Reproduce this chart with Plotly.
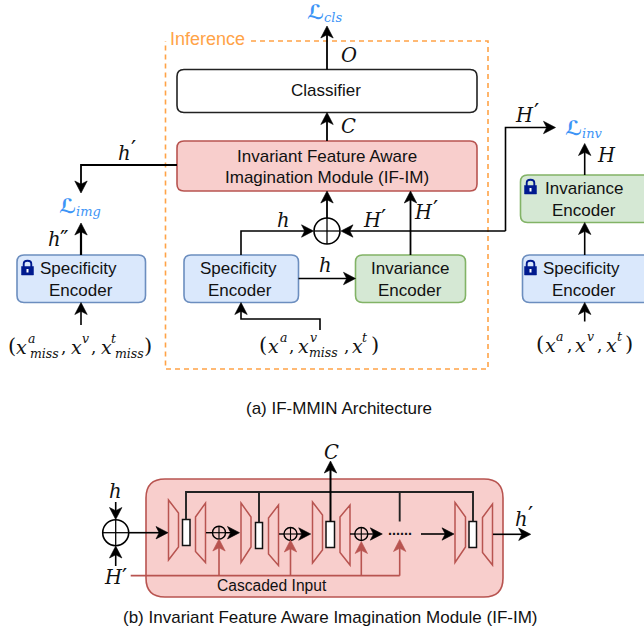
import plotly.graph_objects as go

# ---- text content -------------------------------------------------------
CAPTIONS = ["(a) IF-MMIN Architecture", "(b) Invariant Feature Aware Imagination Module (IF-IM)"]
INFERENCE_LABEL = "Inference"
CLASSIFIER_LABEL = "Classifier"
IFIM_LINES = ["Invariant Feature Aware", "Imagination Module (IF-IM)"]
SPEC_LINES = ["Specificity", "Encoder"]
INV_LINES = ["Invariance", "Encoder"]
CASCADE_LABEL = "Cascaded Input"
DOTS_LABEL = "......"

ORANGE = "#ffa347"
BLUE = "#3d94f6"
RED = "#b85450"
PINK = "#f8cecc"
NAVY = "#001a8f"
FONT = "Liberation Sans"
SERIF = "DejaVu Serif"

shapes = []
notes = []


def line(pts, color="black", w=1.6, dash=None):
    d = "M" + " L".join(f"{x},{y}" for x, y in pts)
    shapes.append(dict(type="path", path=d, line=dict(color=color, width=w, dash=dash),
                       xref="x", yref="y", layer="above"))


def head(x, y, dx, dy, color="black", L=12.0, W=6.2, N=3.2):
    px, py = -dy, dx
    bx, by = x - dx * L, y - dy * L
    nx, ny = x - dx * (L - N), y - dy * (L - N)
    d = (f"M{x},{y} L{bx + px * W},{by + py * W} L{nx},{ny} "
         f"L{bx - px * W},{by - py * W} Z")
    shapes.append(dict(type="path", path=d, fillcolor=color, line=dict(color=color, width=0.6),
                       xref="x", yref="y", layer="above"))


def arrow(pts, color="black", w=1.6, **kw):
    (x0, y0), (x1, y1) = pts[-2], pts[-1]
    n = ((x1 - x0) ** 2 + (y1 - y0) ** 2) ** 0.5
    dx, dy = (x1 - x0) / n, (y1 - y0) / n
    L = kw.get("L", 12.0)
    line(pts[:-1] + [(x1 - dx * (L - 4), y1 - dy * (L - 4))], color, w)
    head(x1, y1, dx, dy, color, **kw)


def rbox(x0, y0, x1, y1, fill, stroke, r=7, w=1.6):
    d = (f"M{x0 + r},{y0} L{x1 - r},{y0} Q{x1},{y0} {x1},{y0 + r} L{x1},{y1 - r} "
         f"Q{x1},{y1} {x1 - r},{y1} L{x0 + r},{y1} Q{x0},{y1} {x0},{y1 - r} "
         f"L{x0},{y0 + r} Q{x0},{y0} {x0 + r},{y0} Z")
    shapes.append(dict(type="path", path=d, fillcolor=fill, line=dict(color=stroke, width=w),
                       xref="x", yref="y", layer="below"))


def text(x, y, s, size=17, color="#111111", font=FONT, anchor="center"):
    notes.append(dict(x=x, y=y, text=s, showarrow=False, xref="x", yref="y",
                      xanchor=anchor, yanchor="middle", borderpad=0, borderwidth=0,
                      font=dict(family=font, size=size, color=color)))


def math(x, y, s, size=19.5, color="#111111"):
    text(x, y, f"<i>{s}</i>", size=size, color=color, font=SERIF)


def primed(x, y, s, dx, dy, mark="′"):
    math(x, y, s)
    text(x + dx, y + dy, mark, size=23, font=SERIF)


def oplus(cx, cy, r, w=1.6):
    shapes.append(dict(type="circle", x0=cx - r, x1=cx + r, y0=cy - r, y1=cy + r,
                       fillcolor="rgba(255,255,255,0)", line=dict(color="black", width=w),
                       xref="x", yref="y", layer="above"))
    line([(cx - r, cy), (cx + r, cy)], w=w * 0.8)
    line([(cx, cy - r), (cx, cy + r)], w=w * 0.8)


def lock(x, y):
    shapes.append(dict(type="rect", x0=x, x1=x + 12, y0=y + 6.5, y1=y + 15, fillcolor=NAVY,
                       line=dict(color=NAVY, width=0.5), xref="x", yref="y", layer="above"))
    d = (f"M{x + 2.2},{y + 7} L{x + 2.2},{y + 4} Q{x + 2.2},{y + 0.8} {x + 6},{y + 0.8} "
         f"Q{x + 9.8},{y + 0.8} {x + 9.8},{y + 4} L{x + 9.8},{y + 7}")
    shapes.append(dict(type="path", path=d, line=dict(color=NAVY, width=1.9),
                       xref="x", yref="y", layer="above"))
    shapes.append(dict(type="rect", x0=x + 5, x1=x + 7, y0=y + 9, y1=y + 12.5, fillcolor="white",
                       line=dict(width=0), xref="x", yref="y", layer="above"))


def loss(x, y, sub):
    text(x, y, "<b>ℒ</b>", size=20, color=BLUE, font="DejaVu Sans")
    text(x + 8.5, y + 5, f"<i>{sub}</i>", size=13, color=BLUE, font=SERIF, anchor="left")


def tuple_text(items, y):
    for kind, x, s in items:
        if kind == "p":
            text(x, y, s, size=21, font=SERIF)
        elif kind == "x":
            math(x, y + 1, s, size=19)
        elif kind == "c":
            text(x, y + 1, s, size=17, font=SERIF)
        elif kind == "sup":
            math(x, y - 7.5, s, size=12.5)
        elif kind == "sub":
            math(x, y + 7.5, s, size=12.5)


# ---- part (a) -------------------------------------------------------------
line([(251, 41), (488, 41), (488, 369), (165.5, 369), (165.5, 41)], color=ORANGE, w=1.6, dash="5px,4px")
text(207.5, 38.5, INFERENCE_LABEL, size=18, color=ORANGE)

rbox(177, 69.5, 477, 112.5, "white", "#222222")
rbox(177, 141, 477, 191, PINK, RED)
rbox(17, 255, 145.5, 302.5, "#dae8fc", "#6c8ebf")
rbox(184, 255, 298.5, 302.5, "#dae8fc", "#6c8ebf")
rbox(355.5, 255, 465.5, 302.5, "#d5e8d4", "#82b366")
rbox(520.5, 175, 652, 222.5, "#d5e8d4", "#82b366")
rbox(522.5, 255, 652, 302.5, "#dae8fc", "#6c8ebf")

text(326, 90, CLASSIFIER_LABEL)
text(327, 156, IFIM_LINES[0])
text(327, 177, IFIM_LINES[1])
text(78, 268, SPEC_LINES[0])
text(81, 290, SPEC_LINES[1])
text(238.5, 268, SPEC_LINES[0])
text(240, 290, SPEC_LINES[1])
text(410, 268, INV_LINES[0])
text(410, 290, INV_LINES[1])
text(584, 188, INV_LINES[0])
text(584, 210, INV_LINES[1])
text(581.5, 268, SPEC_LINES[0])
text(584, 290, SPEC_LINES[1])
lock(21.5, 260)
lock(524.5, 179)
lock(524.5, 260)

arrow([(327, 69.5), (327, 26)], w=1.8)
arrow([(327, 141), (327, 112.5)], w=1.8)
arrow([(177, 165), (81, 165), (81, 193)], w=1.8)
arrow([(505.5, 231), (505.5, 127.5), (555.5, 127.5)], w=1.6)
arrow([(505.5, 231), (341, 231)], w=1.6)
arrow([(241, 255), (241, 231), (313.5, 231)], w=1.6)
arrow([(327, 218), (327, 191)], w=1.8)
arrow([(410.5, 255), (410.5, 191)], w=1.8)
arrow([(298.5, 278.5), (355.5, 278.5)], w=1.6)
arrow([(320, 330), (320, 319), (241, 319), (241, 302.5)], w=1.6)
arrow([(81, 255), (81, 223)], w=2.2)
arrow([(81, 325), (81, 302.5)], w=1.6)
arrow([(584.7, 321.5), (584.7, 302.5)], w=1.6)
arrow([(584.7, 255), (584.7, 222.5)], w=1.6)
arrow([(584.7, 175), (584.7, 143.5)], w=1.6)
oplus(327, 231, 13)

loss(315, 12, "cls")
loss(67, 206, "img")
loss(573, 128, "inv")
math(349, 55, "O")
math(348, 126, "C")
primed(124, 153, "h", 9, -5)
primed(54, 239, "h", 10, -1, "″")
math(283, 220, "h")
math(325, 265, "h")
primed(372, 220.5, "H", 11.5, -4)
primed(423.7, 212, "H", 11.5, -4)
primed(524.5, 115, "H", 11.5, -4)
math(606, 155, "H")

tuple_text([("p", 12, "("), ("x", 21, "x"), ("sup", 31, "a"), ("sub", 44, "miss"), ("c", 63, ","),
            ("x", 76, "x"), ("sup", 85, "v"), ("c", 93, ","), ("x", 106, "x"), ("sup", 114, "t"),
            ("sub", 129, "miss"), ("p", 148, ")")], 346)
tuple_text([("p", 263, "("), ("x", 273, "x"), ("sup", 283, "a"), ("c", 291, ","), ("x", 303, "x"),
            ("sup", 313, "v"), ("sub", 323, "miss"), ("c", 346, ","), ("x", 357, "x"),
            ("sup", 365, "t"), ("p", 375, ")")], 345)
tuple_text([("p", 540, "("), ("x", 550, "x"), ("sup", 559, "a"), ("c", 569, ","), ("x", 580, "x"),
            ("sup", 590, "v"), ("c", 599, ","), ("x", 611, "x"), ("sup", 620, "t"), ("p", 629, ")")], 344)
text(339, 408, CAPTIONS[0], size=17)

# ---- part (b) -------------------------------------------------------------
rbox(146, 479, 503, 597, PINK, RED, r=19)


def trap(x0, y00, y01, x1, y10, y11):
    d = f"M{x0},{y00} L{x1},{y10} L{x1},{y11} L{x0},{y01} Z"
    shapes.append(dict(type="path", path=d, fillcolor="rgba(0,0,0,0)", line=dict(color=RED, width=1.5),
                       xref="x", yref="y", layer="above"))


def core(x0, x1, y0, y1):
    shapes.append(dict(type="rect", x0=x0, x1=x1, y0=y0, y1=y1, fillcolor="white",
                       line=dict(color="#111111", width=1.5), xref="x", yref="y", layer="above"))


trap(168.5, 500, 560, 178.5, 513, 547)
core(182.5, 190, 519.5, 545.5)
trap(195.5, 517, 551.5, 205.5, 503, 562.5)
trap(241, 503, 562.5, 251, 517, 547)
core(255.5, 262.5, 522.5, 548.5)
trap(268.5, 518, 554, 278.5, 505, 565.5)
trap(312.5, 502, 563, 322.5, 515, 550)
core(326, 334.5, 521.5, 547.5)
trap(340, 517, 552.5, 350, 505, 565)
trap(455, 502.5, 562.5, 465.5, 517, 547)
core(469, 476.5, 521.5, 547.5)
trap(482.5, 517.5, 552.5, 492.5, 504, 565)

line([(186, 519.5), (186, 492), (473, 492), (473, 521.5)], w=1.9, color="#222222")
line([(259, 492), (259, 522.5)], w=1.9, color="#222222")
line([(399.7, 492), (399.7, 521.5)], w=1.9, color="#222222")
arrow([(330.5, 521.5), (330.5, 461)], w=2.0)
math(331, 452, "C")

oplus(115.7, 532.7, 13)
arrow([(115.7, 502), (115.7, 519.5)], w=1.6)
arrow([(115.7, 566), (115.7, 546)], w=1.6)
math(115, 491, "h")
primed(113, 577, "H", 11, -1)
arrow([(129, 532.7), (168, 532.7)], w=1.6)

line([(206, 532.7), (212.5, 532.7)], w=1.4)
oplus(219, 532.7, 6.5, w=1.4)
arrow([(225.5, 532.7), (239.5, 532.7)], w=1.4)
line([(279, 534), (284, 534)], w=1.4)
oplus(290.5, 534, 6.5, w=1.4)
arrow([(297, 534), (310.7, 534)], w=1.4)
line([(350, 534), (355, 534)], w=1.4)
oplus(361.3, 534, 6.5, w=1.4)
arrow([(368, 534), (382.3, 534)], w=1.4)
text(399.7, 530, f"<b>{DOTS_LABEL}</b>", size=14.4)
arrow([(421, 534), (454, 534)], w=1.6)
arrow([(493, 534.3), (530.7, 534.3)], w=1.6)
primed(521, 519, "h", 9, -5)

line([(130.7, 575.7), (399.7, 575.7)], color=RED, w=1.8)
arrow([(219, 575.7), (219, 539)], color=RED, w=1.6)
arrow([(290.5, 575.7), (290.5, 540)], color=RED, w=1.6)
arrow([(361.3, 575.7), (361.3, 541.5)], color=RED, w=1.6)
arrow([(399.7, 575.7), (399.7, 539.5)], color=RED, w=1.6)
text(271.5, 585.5, CASCADE_LABEL, size=15.6)
text(329.5, 617, CAPTIONS[1], size=17)

fig = go.Figure()
fig.update_layout(
    width=644, height=632, margin=dict(l=0, r=0, t=0, b=0), autosize=False,
    paper_bgcolor="white", plot_bgcolor="white", showlegend=False,
    xaxis=dict(range=[0, 644], visible=False, fixedrange=True),
    yaxis=dict(range=[632, 0], visible=False, fixedrange=True),
    shapes=shapes, annotations=notes,
)
fig.write_html("out.html", config=dict(displayModeBar=False),
               post_script="document.body.style.margin='0';document.body.style.overflow='hidden';")
